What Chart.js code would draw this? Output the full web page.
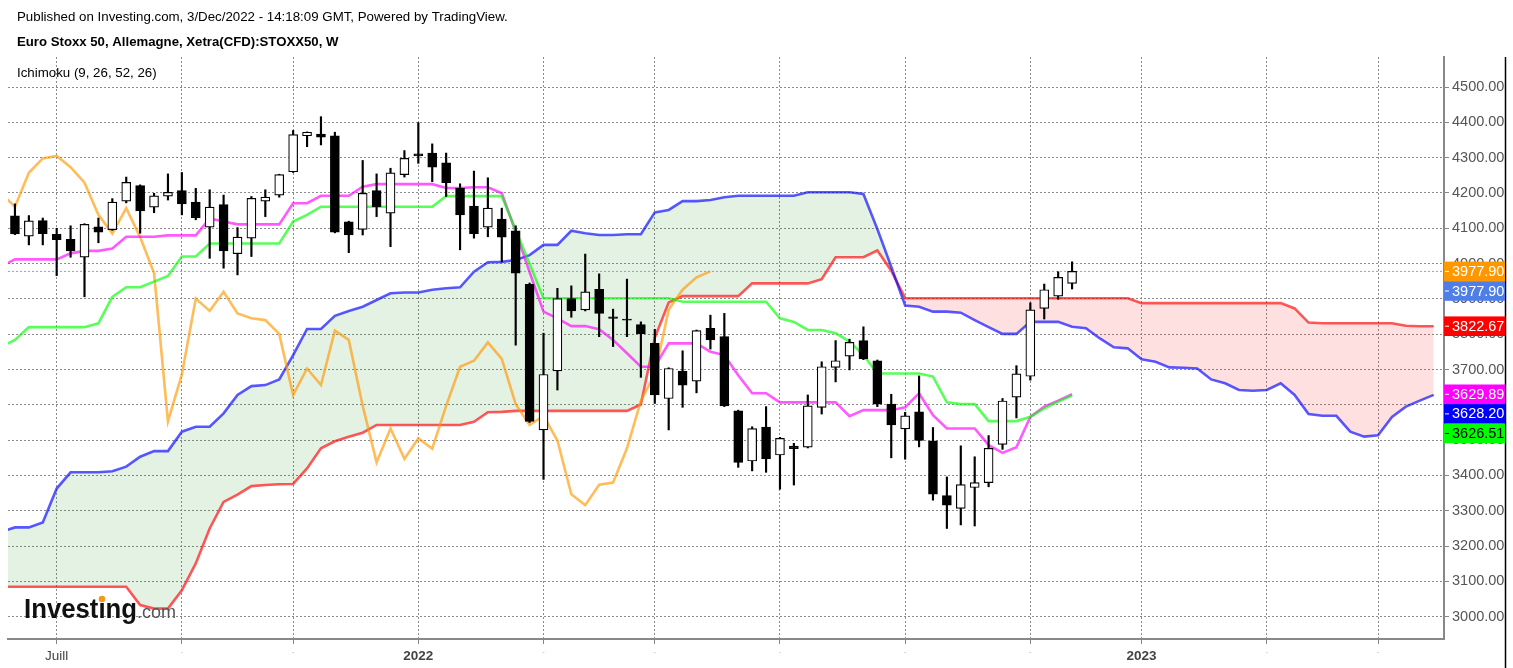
<!DOCTYPE html>
<html>
<head>
<meta charset="utf-8">
<script src="https://cdn.jsdelivr.net/npm/chart.js@4.4.1/dist/chart.umd.min.js"></script>
<style>
html,body{margin:0;padding:0;background:#fff;overflow:hidden}
canvas{display:block}
</style>
</head>
<body>
<canvas id="c" width="1513" height="668"></canvas>
<script>
// Weekly candles, week index 0 = week of 14 Jun 2021 ... 76 = week of 28 Nov 2022
const open = [4135,4078,4122,4083,4069,4018,4104,4096,4177,4221, 4160,4191,4207,4174,4103,4167,4028,4072,4177,4194,
  4260,4362,4367,4362,4118,4097,4207,4143,4252,4311, 4313,4285,4214,4163,4103,4126,4093,3941,3529,3696,
  3901,3869,3927,3849,3843,3827,3774,3618,3696,3667, 3817,3793,3583,3441,3537,3458,3483,3480,3593,3706,
  3738,3782,3725,3602,3532,3580,3498,3343,3307,3366, 3380,3488,3622,3681,3873,3908,3944];
const high = [4169,4136,4129,4100,4107,4113,4129,4184,4245,4223, 4199,4254,4258,4213,4209,4194,4102,4190,4209,4253,
  4377,4373,4416,4372,4120,4292,4254,4270,4320,4399, 4339,4313,4226,4262,4243,4157,4107,3945,3803,3930,
  3937,4027,3971,3871,3956,3835,3814,3705,3753,3812, 3854,3859,3585,3538,3595,3508,3491,3628,3722,3782,
  3786,3821,3727,3630,3579,3682,3536,3396,3484,3453, 3513,3618,3711,3889,3942,3977,4005];
const low = [4082,4053,4053,3966,4018,3906,4059,4094,4172,4086, 4144,4180,4138,4124,4015,3987,3968,4020,4133,4188,
  4258,4331,4336,4087,4031,4081,4133,4048,4245,4284, 4232,4190,4039,4072,4076,4005,3769,3550,3389,3642,
  3848,3866,3793,3765,3793,3678,3604,3529,3593,3634, 3758,3595,3423,3413,3409,3361,3373,3478,3574,3665,
  3699,3728,3595,3450,3446,3481,3330,3250,3260,3257, 3368,3474,3563,3670,3843,3899,3928];
const close = [4084,4121,4085,4068,4036,4111,4089,4174,4230,4149, 4192,4202,4169,4130,4160,4036,4075,4185,4188,4252,
  4365,4372,4358,4089,4081,4199,4161,4257,4298,4305, 4273,4229,4138,4085,4157,4075,3973,3553,3686,3901,
  3866,3920,3859,3845,3840,3801,3628,3703,3656,3810, 3784,3597,3437,3533,3447,3505,3476,3597,3708,3725,
  3777,3730,3602,3543,3569,3499,3347,3316,3374,3380, 3477,3611,3688,3869,3926,3961,3977.9];

// Ichimoku lines, first value is week -1
const lineStart = -1;
const tenkan = [3992,
  4012,4012,4012,4012,4029,4036,4036,4043,4076,4076, 4076,4080,4080,4080,4128,4119,4111,4111,4111,4111,
  4171,4171,4192,4192,4192,4218,4225,4225,4225,4225, 4225,4214,4214,4216,4216,4199,4090,3976,3864,3845,
  3823,3823,3814,3784,3746,3708,3708,3774,3774,3774, 3750,3741,3684,3633,3633,3607,3607,3607,3607,3607,
  3568,3585,3585,3585,3593,3633,3571,3533,3533,3533, 3486,3464,3480,3566,3595,3612,3629.89];
const kijun = [3764,
  3784,3820,3820,3820,3820,3820,3831,3906,3933,3933, 3949,3965,4020,4020,4057,4057,4057,4057,4057,4057,
  4119,4138,4161,4161,4161,4161,4161,4161,4161,4161, 4161,4191,4191,4191,4191,4191,4095,3999,3902,3902,
  3902,3902,3902,3902,3902,3902,3902,3902,3892,3892, 3892,3892,3892,3892,3892,3845,3835,3812,3812,3803,
  3779,3741,3689,3689,3689,3689,3680,3607,3602,3602, 3554,3554,3554,3566,3590,3609,3626.51];
const senkouA = [3241,
  3253,3253,3267,3363,3409,3409,3409,3412,3425,3453, 3469,3469,3524,3538,3538,3576,3628,3653,3656,3672,
  3741,3815,3815,3852,3866,3878,3897,3916,3918,3918, 3926,3930,3933,3977,4004,4005,4010,4024,4053,4053,
  4093,4086,4081,4081,4083,4083,4145,4152,4177,4177, 4180,4188,4192,4192,4192,4192,4192,4202,4202,4202,
  4202,4197,4098,3991,3881,3878,3864,3864,3861,3840, 3820,3801,3801,3835,3835,3835,3821,3817,3788,3763,
  3760,3729,3722,3706,3705,3703,3672,3661,3642,3640, 3642,3661,3628,3574,3569,3569,3524,3510,3514,3566,
  3595,3612,3628.2];
const senkouB = [3085,
  3085,3085,3085,3085,3085,3085,3085,3085,3085,3033, 3023,3023,3075,3151,3250,3325,3346,3370,3373,3375,
  3376,3420,3477,3497,3510,3521,3543,3543,3543,3543, 3543,3543,3543,3552,3579,3580,3583,3583,3583,3583,
  3583,3583,3583,3583,3583,3601,3790,3890,3908,3908, 3908,3908,3908,3944,3944,3944,3944,3944,3956,4018,
  4018,4018,4037,3980,3902,3902,3902,3902,3902,3902, 3902,3902,3902,3902,3902,3902,3902,3902,3902,3902,
  3902,3888,3888,3888,3888,3888,3888,3888,3888,3888, 3888,3888,3873,3833,3831,3831,3831,3831,3831,3831,
  3824,3822.67,3822.67];
const chikouShift = 26;

const xTickWeeks = [3,12,20,29,38,46,55,64,73,81,90,98];
const xTickLabels = ['Juill','-','-','2022','-','-','-','-','-','2023','-','-'];
const yTickValues = [3000,3100,3200,3300,3400,3500,3600,3700,3800,3900,4000,4100,4200,4300,4400,4500];

// ---- build datasets ----
const wickData = high.map((h,i)=>({x:i, y:[low[i], h]}));
const bodyData = open.map((o,i)=>({x:i, y:[o, close[i]]}));
const bodyColors = open.map((o,i)=> close[i] >= o ? '#ffffff' : '#000000');
const linePts = arr => arr.map((v,k)=>({x:k+lineStart, y:v}));
const chikouPts = [];
close.forEach((c,i)=>{ if(i >= chikouShift-1) chikouPts.push({x:i-chikouShift, y:c}); });
const lastClose = close[close.length-1];
const xMin = -0.5, xMax = 102.74;

const overlay = {
  id:'overlay',
  afterDraw(chart){
    const ctx = chart.ctx, ys = chart.scales.y, area = chart.chartArea;
    ctx.save();
    ctx.fillStyle = '#000'; ctx.textAlign='left'; ctx.textBaseline='middle';
    ctx.font = '13.3px Arial, "Liberation Sans"';
    ctx.fillText('Published on Investing.com, 3/Dec/2022 - 14:18:09 GMT, Powered by TradingView.', 17, 17);
    ctx.font = 'bold 13.2px Arial, "Liberation Sans"';
    ctx.fillText('Euro Stoxx 50, Allemagne, Xetra(CFD):STOXX50, W', 17, 42);
    ctx.font = '13.3px Arial, "Liberation Sans"';
    ctx.fillText('Ichimoku (9, 26, 52, 26)', 17, 73);

    // logo
    ctx.textBaseline='alphabetic';
    ctx.font = 'bold 27px Arial, "Liberation Sans"';
    const w = ctx.measureText('Investing').width;
    const sx = 113 / w;
    ctx.save(); ctx.translate(24, 618); ctx.scale(sx,1);
    ctx.fillStyle='#111'; ctx.fillText('Investing',0,0);
    const wi = ctx.measureText('Investi').width - ctx.measureText('i').width/2;
    ctx.restore();
    ctx.fillStyle='#f29a1f'; ctx.beginPath(); ctx.arc(24 + wi*sx, 599, 3.3, 0, Math.PI*2); ctx.fill();
    ctx.font = '18px Arial, "Liberation Sans"'; ctx.fillStyle='#555';
    ctx.fillText('.com', 137, 618);

    // right border
    ctx.strokeStyle='#000'; ctx.lineWidth=1.5;
    ctx.beginPath(); ctx.moveTo(1505.5, area.top); ctx.lineTo(1505.5, 668); ctx.stroke();

    // last value labels
    const items = [
      {v:lastClose, bg:'#ff9800', fg:'#fff'},
      {v:lastClose, bg:'#4f7ee6', fg:'#fff'},
      {v:senkouB[senkouB.length-1], bg:'#ff0000', fg:'#fff'},
      {v:tenkan[tenkan.length-1], bg:'#ff00ff', fg:'#fff'},
      {v:senkouA[senkouA.length-1], bg:'#0000ff', fg:'#fff'},
      {v:kijun[kijun.length-1], bg:'#00ff00', fg:'#000'}
    ];
    const h = 19.6; let prev = -1e9;
    ctx.font = '14.5px Arial, "Liberation Sans"'; ctx.textBaseline='middle';
    items.forEach(it=>{
      let top = ys.getPixelForValue(it.v) - h/2;
      if (top < prev) top = prev;
      prev = top + h;
      ctx.fillStyle = it.bg; ctx.fillRect(area.right, top, 1505 - area.right, h);
      ctx.strokeStyle = it.fg; ctx.lineWidth = 1;
      ctx.beginPath(); ctx.moveTo(area.right+1, top+h/2); ctx.lineTo(area.right+5, top+h/2); ctx.stroke();
      ctx.fillStyle = it.fg; ctx.fillText(it.v.toFixed(2), area.right+8, top+h/2+0.5);
    });
    ctx.restore();
  }
};

Chart.defaults.font.family = 'Arial, "Liberation Sans"';

new Chart(document.getElementById('c'), {
  type:'bar',
  data:{
    datasets:[
      {type:'bar', label:'body', data:bodyData, backgroundColor:bodyColors, borderColor:'#000', borderWidth:1.2,
       borderSkipped:false, barThickness:9, grouped:false, minBarLength:1, order:1, clip:0},
      {type:'bar', label:'wick', data:wickData, backgroundColor:'#000', borderWidth:0,
       barThickness:1.5, grouped:false, order:2, clip:0},
      {type:'line', label:'Kijun', data:linePts(kijun), borderColor:'rgba(0,255,0,0.65)', borderWidth:2.6,
       pointRadius:0, tension:0, fill:false, order:4, clip:0},
      {type:'line', label:'Tenkan', data:linePts(tenkan), borderColor:'rgba(255,0,255,0.65)', borderWidth:2.6,
       pointRadius:0, tension:0, fill:false, order:5, clip:0},
      {type:'line', label:'Chikou', data:chikouPts, borderColor:'rgba(255,152,0,0.65)', borderWidth:2.6,
       pointRadius:0, tension:0, fill:false, order:6, clip:0},
      {type:'line', label:'Price', data:[{x:xMin,y:lastClose},{x:xMax,y:lastClose}], borderColor:'rgba(90,130,230,0.75)',
       borderWidth:1, borderDash:[2,2], pointRadius:0, fill:false, order:7, clip:0},
      {type:'line', label:'SenkouA', data:linePts(senkouA), borderColor:'rgba(0,0,255,0.65)', borderWidth:2.6,
       pointRadius:0, tension:0, fill:{target:7, above:'rgba(0,128,0,0.105)', below:'rgba(255,0,0,0.12)'}, order:8, clip:0},
      {type:'line', label:'SenkouB', data:linePts(senkouB), borderColor:'rgba(255,0,0,0.65)', borderWidth:2.6,
       pointRadius:0, tension:0, fill:false, order:9, clip:0}
    ]
  },
  options:{
    responsive:false, animation:false, devicePixelRatio:1,
    layout:{padding:{top:57, left:8, right:0, bottom:0}},
    plugins:{legend:{display:false}, tooltip:{enabled:false}, filler:{drawTime:'beforeDatasetsDraw'}},
    scales:{
      x:{
        type:'linear', min:xMin, max:xMax, offset:false,
        afterBuildTicks: s => { s.ticks = xTickWeeks.map(v=>({value:v})); },
        afterFit: s => { s.height = 29; },
        ticks:{
          autoSkip:false, maxRotation:0, padding:4,
          callback:(v,i)=> xTickLabels[i],
          color: c => (c.index!==undefined && xTickLabels[c.index]==='-') ? '#aaa' : '#444',
          font: c => {
            const lab = c.index!==undefined ? xTickLabels[c.index] : '';
            if (lab==='-') return {size:7, weight:'normal'};
            return {size:13.5, weight: /^\d+$/.test(lab) ? 'bold' : 'normal'};
          }
        },
        grid:{color:'#8c8c8c', lineWidth:1, offset:false, drawTicks:true, tickLength:5, tickColor:'#888'},
        border:{display:true, color:'#888', width:2, dash:[2,2]}
      },
      y:{
        type:'linear', position:'right', min:2937, max:4585,
        afterBuildTicks: s => { s.ticks = yTickValues.map(v=>({value:v})); },
        afterFit: s => { s.width = 69; },
        ticks:{ callback: v => Number(v).toFixed(2), color:'#555', font:{size:14.5}, padding:3 },
        grid:{color:'#8c8c8c', lineWidth:1, drawTicks:true, tickLength:5, tickColor:'#888'},
        border:{display:true, color:'#888', width:2, dash:[2,2]}
      }
    }
  },
  plugins:[overlay]
});
</script>
</body>
</html>
